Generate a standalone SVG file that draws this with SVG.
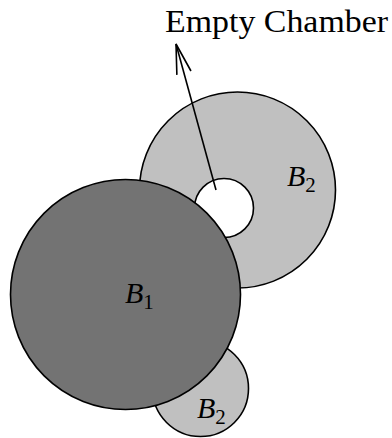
<svg xmlns="http://www.w3.org/2000/svg" width="392" height="438" viewBox="0 0 392 438">
<style>
.c{stroke:#000;stroke-width:1.6}
.light{fill:#c0c0c0}
.dark{fill:#737373}
.t{font-family:"Liberation Serif","DejaVu Serif",serif;fill:#000}
.lbl{font-style:italic;font-size:30px}
.sub{font-style:normal;font-size:21px}
</style>
<defs>
<marker id="arr" viewBox="-32 -10 34 20" markerWidth="34" markerHeight="20" refX="0" refY="0" orient="auto" markerUnits="userSpaceOnUse">
<path d="M-30,-7.3 L0,0 L-30,7.3" fill="none" stroke="#000" stroke-width="1.6" stroke-linejoin="miter"/>
</marker>
</defs>
<g id="B2-upper">
<circle class="c light" cx="237.5" cy="190" r="98"/>
<text class="t lbl" x="287" y="186">B<tspan class="sub" dy="6">2</tspan></text>
</g>
<g id="B2-lower">
<circle class="c light" cx="200.5" cy="388.5" r="48"/>
</g>
<g id="empty-chamber">
<circle class="c" fill="#fff" cx="224" cy="208" r="29.5"/>
<text class="t" x="165" y="32" font-size="31" textLength="223" lengthAdjust="spacingAndGlyphs">Empty Chamber</text>
</g>
<g id="connectors">
<line x1="216" y1="190" x2="176" y2="44" stroke="#000" stroke-width="1.6" marker-end="url(#arr)"/>
</g>
<g id="B1">
<circle class="c dark" cx="125.5" cy="294.5" r="115"/>
<text class="t lbl" x="125" y="303">B<tspan class="sub" dy="6">1</tspan></text>
</g>
<g id="B2-lower-label">
<text class="t lbl" x="197" y="418">B<tspan class="sub" dy="6">2</tspan></text>
</g>
</svg>
